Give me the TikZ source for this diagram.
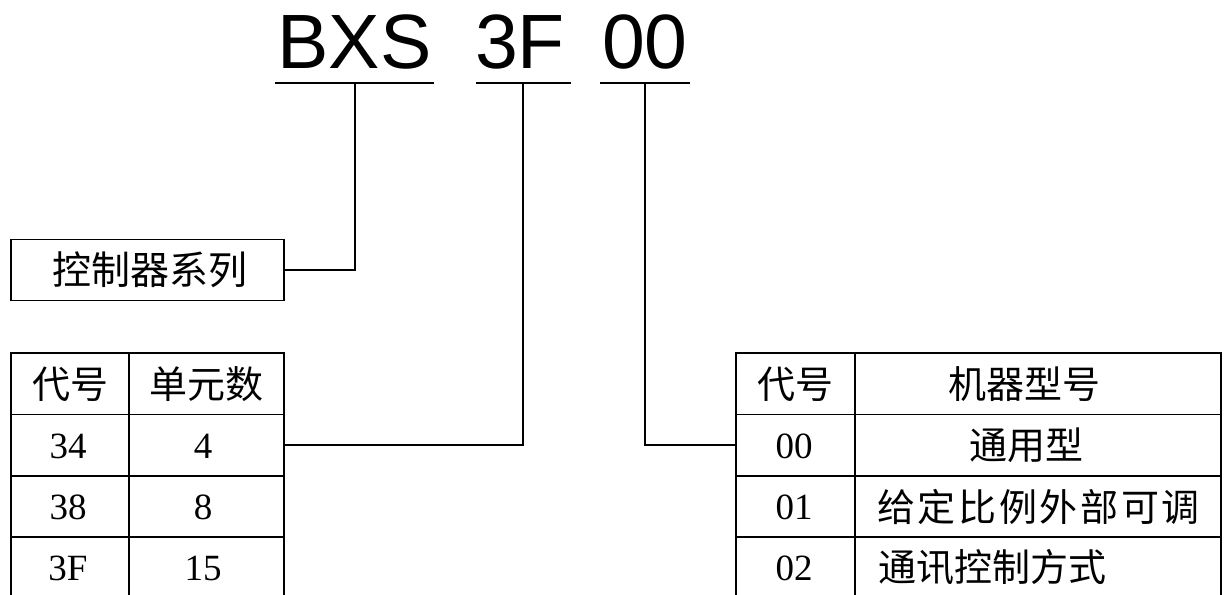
\documentclass[tikz,border=0pt]{standalone}
\usepackage{fontspec}
\setmainfont{Liberation Serif}
\newfontfamily\cjk{Noto Sans CJK SC}
\newfontfamily\cjkwide{Noto Sans CJK SC}[LetterSpace=7]
\newfontfamily\codefont{Liberation Sans}
\begin{document}
\begin{tikzpicture}[x=1pt,y=-1pt,
  ln/.style={line width=1.5pt, line cap=rect},
  cn/.style={font=\cjk\fontsize{38}{38}\selectfont, inner sep=0pt},
  cnw/.style={font=\cjkwide\fontsize{38}{38}\selectfont, inner sep=0pt, anchor=west},
  num/.style={font=\fontsize{37}{37}\selectfont, inner sep=0pt},
  code/.style={font=\codefont\fontsize{77}{77}\selectfont, inner sep=0pt, anchor=base},
  boxed/.style={draw, line width=1.5pt, minimum width=273pt, minimum height=61pt, inner sep=0pt}]
\clip (0,0) rectangle (1230,594);
\fill[white] (0,0) rectangle (1230,594);

% code letters
\node[code] (bxs) at (354.5,68) {BXS};
\node[code] (f3) at (520,68) {3F};
\node[code] (zz) at (645,68) {00};

\coordinate (u1a) at (276,83);  \coordinate (u1b) at (433,83);  \coordinate (t1) at (355,83);
\coordinate (u2a) at (477,83);  \coordinate (u2b) at (570,83);  \coordinate (t2) at (523,83);
\coordinate (u3a) at (601,83);  \coordinate (u3b) at (689,83);  \coordinate (t3) at (645,83);
\draw[ln] (u1a) -- (u1b);
\draw[ln] (u2a) -- (u2b);
\draw[ln] (u3a) -- (u3b);

% series box
\node[boxed] (series) at (147.5,270) {};
\node[cn, font=\cjk\fontsize{39}{39}\selectfont] (seriest) at (150,270) {控制器系列};
\draw[ln] (t1) |- (series.east);

% left table
\draw[ln] (11,353) -- (11,600) (129,353) -- (129,600) (284,353) -- (284,600);
\draw[ln] (11,353) -- (284,353) (11,414.5) -- (284,414.5) (11,476) -- (284,476) (11,537) -- (284,537);
\node[cn] (lh1) at (70,384) {代号};
\node[cn] (lh2) at (206,384) {单元数};
\node[num] (l11) at (68,446) {34};
\node[num] (l12) at (203,446) {4};
\node[num] (l21) at (68,507) {38};
\node[num] (l22) at (203,507) {8};
\node[num] (l31) at (68,568) {3F};
\node[num] (l32) at (203,568) {15};
\coordinate (lt) at (284,445);
\draw[ln] (t2) |- (lt);

% right table
\draw[ln] (736,353) -- (736,600) (855,353) -- (855,600) (1221,353) -- (1221,600);
\draw[ln] (736,353) -- (1221,353) (736,414.5) -- (1221,414.5) (736,476) -- (1221,476) (736,537) -- (1221,537);
\node[cn] (rh1) at (795,384) {代号};
\node[cn] (rh2) at (1024,384) {机器型号};
\node[num] (r11) at (794,446) {00};
\node[cn] (r12) at (1026,445) {通用型};
\node[num] (r21) at (794,507) {01};
\node[cnw] (r22) at (877,506.5) {给定比例外部可调};
\node[num] (r31) at (794,568) {02};
\node[cn, anchor=west] (r32) at (878,567.5) {通讯控制方式};
\coordinate (rt) at (736,445);
\draw[ln] (t3) |- (rt);
\end{tikzpicture}
\end{document}
